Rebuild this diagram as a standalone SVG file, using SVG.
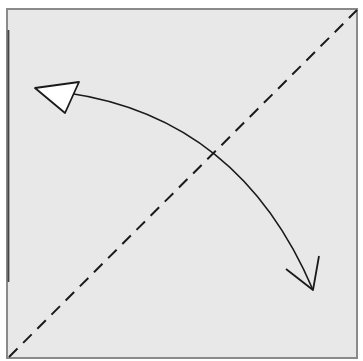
<svg xmlns="http://www.w3.org/2000/svg" width="363" height="361" viewBox="0 0 363 361">
<style>
.frame{fill:#e8e8e8;stroke:#8a8a8a;stroke-width:2}
.dash{fill:none;stroke:#1a1a1a;stroke-width:2;stroke-dasharray:12 8}
.curve{fill:none;stroke:#1a1a1a;stroke-width:1.6}
</style>
<rect width="363" height="361" fill="#ffffff"/>
<g id="frame">
<rect class="frame" x="7" y="9" width="350" height="349"/>
<line x1="8.5" y1="30" x2="8.5" y2="282" stroke="#444" stroke-width="1.8"/>
</g>
<g id="diagonal">
<line class="dash" x1="9" y1="357" x2="357" y2="10"/>
</g>
<g id="connectors">
<path class="curve" d="M68,93 Q240,118 313,290"/>
<polygon points="35,88 79,82 65,113" fill="#ffffff" stroke="#1a1a1a" stroke-width="1.8" stroke-linejoin="round"/>
<polyline points="286,269 313,290 319,256" fill="none" stroke="#1a1a1a" stroke-width="1.8" stroke-linejoin="round"/>
</g>
</svg>
